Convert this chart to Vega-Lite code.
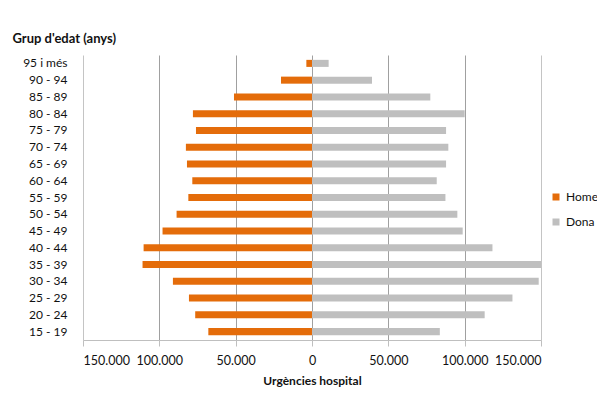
{
  "$schema": "https://vega.github.io/schema/vega-lite/v6.json",
  "width": 458,
  "height": 285,
  "autosize": {"type": "none"},
  "padding": {"left": 83, "top": 55, "right": 56, "bottom": 77},
  "background": "white",
  "config": {"view": {"stroke": null}, "font": "Lato"},
  "data": {
    "values": [
      {"age": "95 i més", "sex": "Home", "value": -3700},
      {"age": "95 i més", "sex": "Dona", "value": 10900},
      {"age": "90 - 94", "sex": "Home", "value": -20300},
      {"age": "90 - 94", "sex": "Dona", "value": 39300},
      {"age": "85 - 89", "sex": "Home", "value": -51100},
      {"age": "85 - 89", "sex": "Dona", "value": 77500},
      {"age": "80 - 84", "sex": "Home", "value": -78000},
      {"age": "80 - 84", "sex": "Dona", "value": 100000},
      {"age": "75 - 79", "sex": "Home", "value": -76000},
      {"age": "75 - 79", "sex": "Dona", "value": 87800},
      {"age": "70 - 74", "sex": "Home", "value": -82600},
      {"age": "70 - 74", "sex": "Dona", "value": 89300},
      {"age": "65 - 69", "sex": "Home", "value": -81900},
      {"age": "65 - 69", "sex": "Dona", "value": 87800},
      {"age": "60 - 64", "sex": "Home", "value": -78400},
      {"age": "60 - 64", "sex": "Dona", "value": 81700},
      {"age": "55 - 59", "sex": "Home", "value": -81000},
      {"age": "55 - 59", "sex": "Dona", "value": 87400},
      {"age": "50 - 54", "sex": "Home", "value": -88700},
      {"age": "50 - 54", "sex": "Dona", "value": 95200},
      {"age": "45 - 49", "sex": "Home", "value": -97900},
      {"age": "45 - 49", "sex": "Dona", "value": 98700},
      {"age": "40 - 44", "sex": "Home", "value": -110300},
      {"age": "40 - 44", "sex": "Dona", "value": 118200},
      {"age": "35 - 39", "sex": "Home", "value": -111000},
      {"age": "35 - 39", "sex": "Dona", "value": 150000},
      {"age": "30 - 34", "sex": "Home", "value": -91100},
      {"age": "30 - 34", "sex": "Dona", "value": 148500},
      {"age": "25 - 29", "sex": "Home", "value": -80600},
      {"age": "25 - 29", "sex": "Dona", "value": 131300},
      {"age": "20 - 24", "sex": "Home", "value": -76500},
      {"age": "20 - 24", "sex": "Dona", "value": 113100},
      {"age": "15 - 19", "sex": "Home", "value": -67900},
      {"age": "15 - 19", "sex": "Dona", "value": 83700}
    ]
  },
  "mark": {"type": "bar"},
  "encoding": {
    "y": {
      "field": "age",
      "type": "nominal",
      "sort": null,
      "scale": {"paddingInner": 0.58, "paddingOuter": 0.29},
      "axis": {
        "domain": false,
        "ticks": false,
        "grid": false,
        "labelPadding": 16,
        "labelFontSize": 12,
        "labelColor": "#111",
        "title": "Grup d'edat (anys)",
        "titleAngle": 0,
        "titleAlign": "left",
        "titleBaseline": "middle",
        "titleX": -71,
        "titleY": -17,
        "titleFontSize": 13,
        "titleFontWeight": "bold",
        "titleColor": "#111"
      }
    },
    "x": {
      "field": "value",
      "type": "quantitative",
      "stack": null,
      "scale": {"domain": [-150000, 150000], "nice": false},
      "axis": {
        "values": [-150000, -100000, -50000, 0, 50000, 100000, 150000],
        "labelExpr": "replace(format(abs(datum.value), ','), ',', '.')",
        "grid": true,
        "gridColor": {"condition": {"test": "abs(datum.value) == 150000", "value": "#c4c4c4"}, "value": "#a0a0a0"},
        "domainColor": "#bfbfbf",
        "tickColor": "#bfbfbf",
        "tickSize": 6,
        "labelPadding": 8,
        "labelFontSize": 12.5,
        "labelColor": "#111",
        "title": "Urgències hospital",
        "titleFontSize": 12,
        "titleFontWeight": "bold",
        "titleColor": "#111",
        "titlePadding": 9
      }
    },
    "color": {
      "field": "sex",
      "type": "nominal",
      "scale": {"domain": ["Home", "Dona"], "range": ["#E46C0A", "#BFBFBF"]},
      "legend": {
        "orient": "none",
        "legendX": 467,
        "legendY": 136,
        "title": null,
        "symbolType": "square",
        "symbolSize": 49,
        "symbolStrokeWidth": 0,
        "labelFontSize": 12,
        "labelColor": "#111",
        "rowPadding": 13
      }
    }
  }
}
